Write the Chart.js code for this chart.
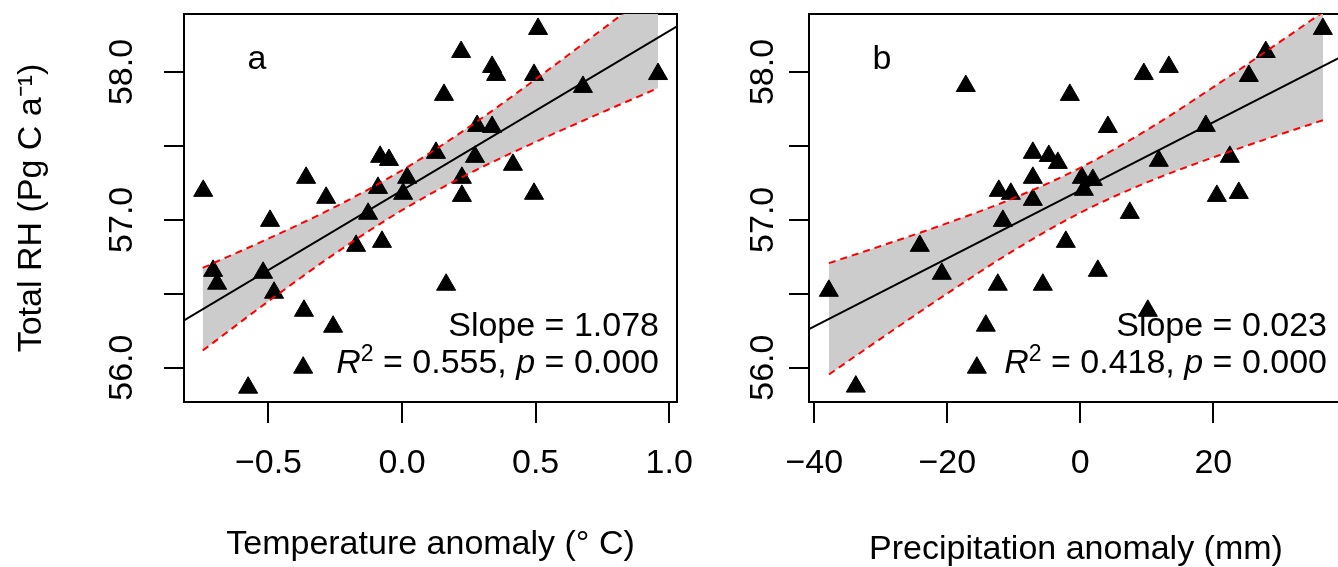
<!DOCTYPE html>
<html><head><meta charset="utf-8">
<script src="https://cdn.jsdelivr.net/npm/chart.js@4.4.1/dist/chart.umd.min.js"></script>
<style>
html,body{margin:0;padding:0;background:#fff;overflow:hidden;width:1338px;height:567px;}
#cl{position:absolute;left:0;top:0;}
#cr{position:absolute;left:700px;top:0;}
</style></head><body>
<canvas id="cl" width="700" height="567"></canvas>
<canvas id="cr" width="660" height="567"></canvas>
<script>
// ---- data ----
const tempAnomaly = [-0.744,-0.359,-0.284,-0.082,-0.049,-0.090,0.019,0.004,0.127,0.157,-0.127,0.509,0.221,0.337,0.352,0.494,0.958,0.677,0.281,0.337,0.273,0.415,0.224,0.224,0.494,-0.494,-0.172,-0.075,-0.707,-0.692,-0.520,-0.479,-0.367,-0.258,-0.370,-0.576,0.165];
const rhTemp = [57.196,57.284,57.149,57.426,57.405,57.216,57.284,57.176,57.453,57.845,57.041,58.291,58.135,58.034,57.980,57.980,57.986,57.899,57.635,57.628,57.426,57.372,57.284,57.162,57.176,56.993,56.824,56.851,56.655,56.568,56.642,56.507,56.385,56.277,56.000,55.865,56.561];

const precAnomaly = [-17.22,-1.58,-7.14,-4.74,-3.38,-7.14,-12.26,-10.45,-7.14,36.47,27.89,9.55,13.31,25.34,4.14,18.87,11.80,22.48,0.23,1.88,0.53,20.53,23.83,7.44,-11.65,-24.14,-20.83,-37.82,-12.41,-5.64,-14.21,-15.56,-33.76,-2.18,2.63,10.15];
const rhPrec = [57.905,57.845,57.453,57.432,57.385,57.284,57.196,57.176,57.135,58.291,58.135,57.986,58.034,57.973,57.628,57.635,57.399,57.426,57.284,57.270,57.203,57.162,57.182,57.047,56.993,56.824,56.635,56.520,56.561,56.561,56.284,56.000,55.872,56.851,56.655,56.385];

// confidence band (read at several x positions)
const bandTempX = [-0.746,-0.5,-0.25,0,0.25,0.5,0.75,0.958];
const bandTempUpper = [56.675,56.873,57.088,57.335,57.627,57.951,58.289,58.575];
const bandTempLower = [56.116,56.449,56.773,57.065,57.312,57.527,57.728,57.891];
const bandPrecX = [-37.8,-30,-20,-10,0,10,20,30,36.5];
const bandPrecUpper = [56.707,56.823,56.9775,57.147,57.352,57.607,57.8975,58.203,58.405];
const bandPrecLower = [55.954,56.197,56.5025,56.793,57.048,57.253,57.4225,57.577,57.674];

// fitted lines
const tempFit = {intercept: 57.20, slope: 1.078};
const precFit = {intercept: 57.20, slope: 0.023};

// ticks
const rhTicks = [56.0,56.5,57.0,57.5,58.0];
const rhTickLabels = ['56.0','','57.0','','58.0'];
const tempTicks = [-0.5,0,0.5,1.0];
const tempTickLabels = ['\u22120.5','0.0','0.5','1.0'];
const precTicks = [-40,-20,0,20];
const precTickLabels = ['\u221240','\u221220','0','20'];

// axis ranges
const rhRange = [55.768,58.392];
const tempRange = [-0.816,1.029];
const precRange = [-40.8,39.5];

// stats text
const tempStats = {letter:'a', slope:'1.078', r2:'0.555', p:'0.000'};
const precStats = {letter:'b', slope:'0.023', r2:'0.418', p:'0.000'};

// ---- drawing ----
const FF = "'Liberation Sans', Arial, Helvetica, sans-serif";
Chart.defaults.font.family = FF;
Chart.defaults.color = '#000';

const annot = {
  id: 'annot',
  afterDraw(chart, args, o) {
    const {ctx, chartArea: a} = chart;
    ctx.save();
    ctx.fillStyle = '#000';
    ctx.textBaseline = 'alphabetic';
    ctx.font = '34px ' + FF;
    ctx.textAlign = 'center';
    ctx.fillText(o.letter, a.left + 73, a.top + 55);
    ctx.textAlign = 'right';
    ctx.fillText('Slope = ' + o.slope, a.right - o.rightGap, a.bottom - 66);
    const segs = [
      {t: 'R', f: 'italic 34px ' + FF, dy: 0},
      {t: '2', f: '23px ' + FF, dy: -12},
      {t: ' = ' + o.r2 + ', ', f: '34px ' + FF, dy: 0},
      {t: 'p', f: 'italic 34px ' + FF, dy: 0},
      {t: ' = ' + o.p, f: '34px ' + FF, dy: 0}
    ];
    let total = 0;
    segs.forEach(s => { ctx.font = s.f; s.w = ctx.measureText(s.t).width; total += s.w; });
    let x = a.right - o.rightGap - total;
    ctx.textAlign = 'left';
    segs.forEach(s => { ctx.font = s.f; ctx.fillText(s.t, x, a.bottom - 29 + s.dy); x += s.w; });
    ctx.restore();
  }
};

function panel(id, p) {
  const pts = p.xs.map((x, i) => ({x, y: p.ys[i]}));
  const up = p.bx.map((x, i) => ({x, y: p.bu[i]}));
  const lo = p.bx.map((x, i) => ({x, y: p.bl[i]}));
  const fit = p.xRange.map(x => ({x, y: p.fit.intercept + p.fit.slope * x}));
  const font = {size: 34, family: FF};
  const yAxis = {
    type: 'linear', position: 'left', min: rhRange[0], max: rhRange[1],
    afterBuildTicks: s => { s.ticks = rhTicks.map(v => ({value: v})); },
    ticks: {
      callback: v => rhTickLabels[rhTicks.indexOf(v)],
      font, color: '#000', minRotation: 90, maxRotation: 90, crossAlign: 'center', padding: p.yTickPad, autoSkip: false
    },
    grid: {display: true, drawOnChartArea: false, drawTicks: true, tickLength: 20, lineWidth: 2, color: '#000'},
    border: {display: true, color: '#000', width: 2},
    title: p.yTitle ? {display: true, text: p.yTitle, font, color: '#000', padding: {top: 11, bottom: 0}} : {display: false},
    afterFit: s => { s.width = p.yWidth; s.paddingTop = 0; s.paddingBottom = 0; }
  };
  const xAxis = {
    type: 'linear', position: 'bottom', min: p.xRange[0], max: p.xRange[1],
    afterBuildTicks: s => { s.ticks = p.xTicks.map(v => ({value: v})); },
    ticks: {
      callback: v => p.xLabels[p.xTicks.indexOf(v)],
      font, color: '#000', minRotation: 0, maxRotation: 0, padding: 20, autoSkip: false
    },
    grid: {display: true, drawOnChartArea: false, drawTicks: true, tickLength: 21, lineWidth: 2, color: '#000'},
    border: {display: true, color: '#000', width: 2},
    title: {display: true, text: p.xTitle, font, color: '#000', padding: {top: 0, bottom: p.xTitlePad}},
    afterFit: s => { s.height = 165; s.paddingLeft = 0; s.paddingRight = 0; }
  };
  const frame = (pos, size) => ({
    type: 'linear', position: pos, min: 0, max: 1,
    ticks: {display: false}, grid: {display: false, drawTicks: false},
    border: {display: true, color: '#000', width: 2},
    afterFit: s => { if (s.isHorizontal()) { s.height = size; } else { s.width = size; } s.paddingTop = 0; s.paddingBottom = 0; s.paddingLeft = 0; s.paddingRight = 0; }
  });
  return new Chart(document.getElementById(id), {
    type: 'line',
    data: {
      datasets: [
        {data: pts, showLine: false, pointStyle: 'triangle', pointRadius: 11, pointBackgroundColor: '#000', pointBorderColor: '#000', pointBorderWidth: 1, order: 3},
        {data: up, borderColor: '#ff0000', borderWidth: 2, borderDash: [7, 5], pointRadius: 0, fill: '+1', backgroundColor: '#cccccc', cubicInterpolationMode: 'monotone', clip: 0, order: 2},
        {data: lo, borderColor: '#ff0000', borderWidth: 2, borderDash: [7, 5], pointRadius: 0, fill: false, cubicInterpolationMode: 'monotone', clip: 0, order: 2},
        {data: fit, borderColor: '#000', borderWidth: 2, pointRadius: 0, fill: false, clip: 0, order: 1}
      ]
    },
    options: {
      responsive: false, animation: false, events: [],
      layout: {padding: 0},
      scales: {x: xAxis, y: yAxis, xTop: frame('top', 14), yRight: frame('right', p.rightWidth)},
      plugins: {legend: {display: false}, tooltip: {enabled: false}, filler: {drawTime: 'beforeDatasetsDraw'}, annot: p.stats}
    },
    plugins: [annot]
  });
}

panel('cl', {
  xs: tempAnomaly, ys: rhTemp, bx: bandTempX, bu: bandTempUpper, bl: bandTempLower,
  fit: tempFit, xRange: tempRange, xTicks: tempTicks, xLabels: tempTickLabels,
  xTitle: 'Temperature anomaly (\u00B0 C)', yTitle: 'Total RH (Pg C a\u207B\u00B9)',
  yWidth: 184, rightWidth: 23, xTitlePad: 2, yTickPad: 8,
  stats: Object.assign({rightGap: 18}, tempStats)
});
panel('cr', {
  xs: precAnomaly, ys: rhPrec, bx: bandPrecX, bu: bandPrecUpper, bl: bandPrecLower,
  fit: precFit, xRange: precRange, xTicks: precTicks, xLabels: precTickLabels,
  xTitle: 'Precipitation anomaly (mm)', yTitle: null,
  yWidth: 109, rightWidth: 17, xTitlePad: -3, yTickPad: -8,
  stats: Object.assign({rightGap: 16}, precStats)
});
</script>
</body></html>
